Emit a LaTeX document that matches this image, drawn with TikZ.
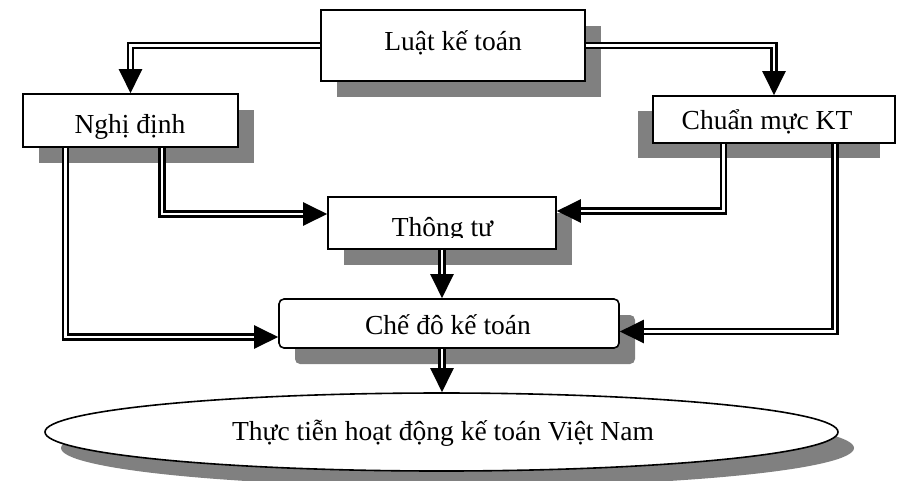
\documentclass[tikz,border=0pt]{standalone}
\usepackage{fontspec}
\setmainfont{Liberation Serif}
\usetikzlibrary{arrows.meta,calc,shadows,shapes.geometric}
\definecolor{shade}{HTML}{808080}
\tikzset{
  boxshape/.style={draw, line width=1.6pt, fill=white, inner sep=0pt},
  shadowdr/.style={drop shadow={shadow xshift=16pt, shadow yshift=-16pt, fill=shade, opacity=1}},
  shadowdl/.style={drop shadow={shadow xshift=-15pt, shadow yshift=-15pt, fill=shade, opacity=1}},
  label/.style={anchor=base, inner sep=0pt, font=\fontsize{27.5}{33}\selectfont},
  dbl/.style={draw=black, line width=2.2pt, double=white, double distance=2.8pt,
    -{Triangle[length=24pt, width=23pt]}},
}
\begin{document}
\begin{tikzpicture}[x=1pt, y=-1pt]
\useasboundingbox (0,0) rectangle (901,480);

% boxes
\node[boxshape, shadowdr, minimum width=264pt, minimum height=71pt] (luat) at (453,45.5) {};
\node[boxshape, shadowdr, minimum width=215pt, minimum height=53pt] (nghi) at (130.5,120.5) {};
\node[boxshape, shadowdl, minimum width=242pt, minimum height=47pt] (chuan) at (774,119.5) {};
\node[boxshape, shadowdr, minimum width=228pt, minimum height=52pt] (thong) at (442,223) {};
\node[boxshape, shadowdr, rounded corners=5pt, minimum width=340pt, minimum height=49pt] (chedo) at (449,323.5) {};
\node[boxshape, shadowdr, ellipse, minimum width=793pt, minimum height=78pt] (thuc) at (441.5,432) {};

% labels
\node[label] (luatT) at (453,50) {Luật kế toán};
\node[label] (nghiT) at (130,133) {Nghị định};
\node[label] (chuanT) at (767,129) {Chuẩn mực KT};
\begin{scope}
  \clip (thong.north west) rectangle ($(thong.south east)+(0,-12)$);
  \node[label] (thongT) at (442.5,236.5) {Thông tư};
\end{scope}
\node[label] (chedoT) at (448,334) {Chế đô kế toán};
\node[label] (thucT) at (443,440) {Thực tiễn hoạt động kế toán Việt Nam};

% connectors
\draw[dbl] (luat.west) -| (nghi.north);
\draw[dbl] (luat.east) -| (chuan.north);
\draw[dbl] ($(nghi.south)+(31.5,0)$) |- ($(thong.west)+(0,-9)$);
\draw[dbl] ($(nghi.south)+(-65,0)$) |- ($(chedo.west)+(0,13.5)$);
\draw[dbl] ($(chuan.south)+(-50.5,0)$) |- ($(thong.east)+(0,-12)$);
\draw[dbl] ($(chuan.south)+(61,0)$) |- ($(chedo.east)+(0,8)$);
\draw[dbl] (thong.south) -- (thong.south |- chedo.north);
\draw[dbl] (thong.south |- chedo.south) -- (thong.south |- thuc.north);
\end{tikzpicture}
\end{document}
